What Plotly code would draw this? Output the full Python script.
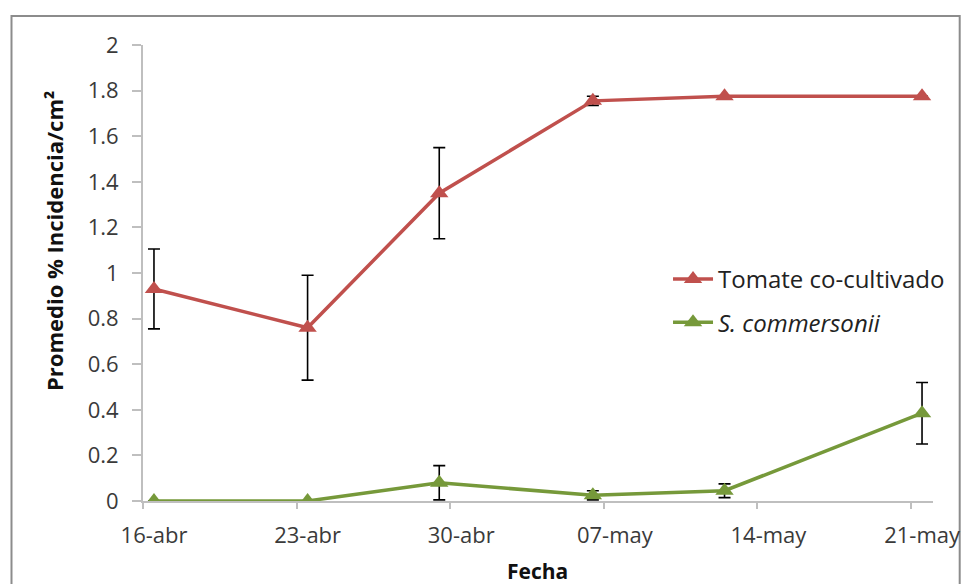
import plotly.graph_objects as go

# Data
dates = ["2012-04-16 12:00", "2012-04-23 12:00", "2012-04-29 12:00",
         "2012-05-06 12:00", "2012-05-12 12:00", "2012-05-21 12:00"]
tick_dates = ["2012-04-16", "2012-04-23", "2012-04-30", "2012-05-07", "2012-05-14", "2012-05-21"]
tick_labels = ["16-abr", "23-abr", "30-abr", "07-may", "14-may", "21-may"]

tomate = [0.93, 0.76, 1.35, 1.755, 1.775, 1.775]
tomate_err = [0.175, 0.23, 0.20, 0.02, 0.0, 0.0]
scomm = [0.0, 0.0, 0.08, 0.025, 0.045, 0.385]
scomm_err = [0.0, 0.0, 0.075, 0.02, 0.03, 0.135]

RED = "#C0504D"
GREEN = "#76993A"
FONT = "Open Sans"

fig = go.Figure()
fig.add_trace(go.Scatter(
    x=dates, y=tomate, name="Tomate co-cultivado", mode="lines+markers",
    line=dict(color=RED, width=3.5),
    marker=dict(symbol="triangle-up", size=16, color=RED),
    error_y=dict(type="data", array=tomate_err, color="black", thickness=1.6, width=6),
    legendgroup="a",
))
fig.add_trace(go.Scatter(
    x=dates, y=scomm, name="<i>S. commersonii</i>", mode="lines+markers",
    line=dict(color=GREEN, width=3.5),
    marker=dict(symbol="triangle-up", size=16, color=GREEN),
    error_y=dict(type="data", array=scomm_err, color="black", thickness=1.6, width=6),
    legendgroup="b",
))

# page body has an 8px margin: the figure is drawn offset by 8px
OFF = 8
W, H = 973 - OFF, 584 - OFF
L, R, T, B = 143, 942, 45, 501   # plot area in screen pixels
def px(x):
    return (x - L) / (R - L)
def py(y):
    return (B - y) / (B - T)

fig.update_layout(
    width=W, height=H,
    margin=dict(l=L - OFF, r=W - (R - OFF), t=T - OFF, b=H - (B - OFF)),
    paper_bgcolor="white", plot_bgcolor="white",
    font=dict(family=FONT, size=22, color="#3a3a3a"),
    showlegend=True,
    legend=dict(x=px(674), y=py(257), xanchor="left", yanchor="top",
                traceorder="grouped", tracegroupgap=9,
                font=dict(family=FONT, size=24, color="#222222"),
                bgcolor="rgba(0,0,0,0)", itemwidth=40),
    xaxis=dict(
        type="date", range=["2012-04-16", "2012-05-22"],
        tickmode="array", tickvals=tick_dates, ticktext=tick_labels,
        ticks="outside", ticklen=6, tickcolor="#bfbfbf", tickwidth=1.5,
        showline=True, linecolor="#bfbfbf", linewidth=2,
        showgrid=False, zeroline=False,
        ticklabelshift=11, ticklabelstandoff=8,
        tickfont=dict(family=FONT, size=22, color="#3a3a3a"),
    ),
    yaxis=dict(
        range=[0, 2], tickmode="linear", tick0=0, dtick=0.2,
        ticks="outside", ticklen=9, tickcolor="#bfbfbf", tickwidth=1.5,
        showline=True, linecolor="#bfbfbf", linewidth=2,
        showgrid=False, zeroline=False,
        ticklabelstandoff=9,
        tickfont=dict(family=FONT, size=22, color="#3a3a3a"),
    ),
    shapes=[dict(type="rect", xref="paper", yref="paper",
                 x0=px(10), x1=px(969), y0=py(600), y1=py(16),
                 line=dict(color="#8c8c8c", width=2), layer="below")],
    annotations=[
        dict(text="<b>Promedio % Incidencia/cm²</b>", textangle=-90,
             xref="paper", yref="paper", x=px(53), y=py(241),
             xanchor="center", yanchor="middle", showarrow=False,
             font=dict(family=FONT, size=22, color="#111111")),
        dict(text="<b>Fecha</b>", xref="paper", yref="paper",
             x=px(542), y=py(571), xanchor="center", yanchor="middle",
             showarrow=False, font=dict(family=FONT, size=21, color="#111111")),
    ],
)

fig.write_html("out.html")
